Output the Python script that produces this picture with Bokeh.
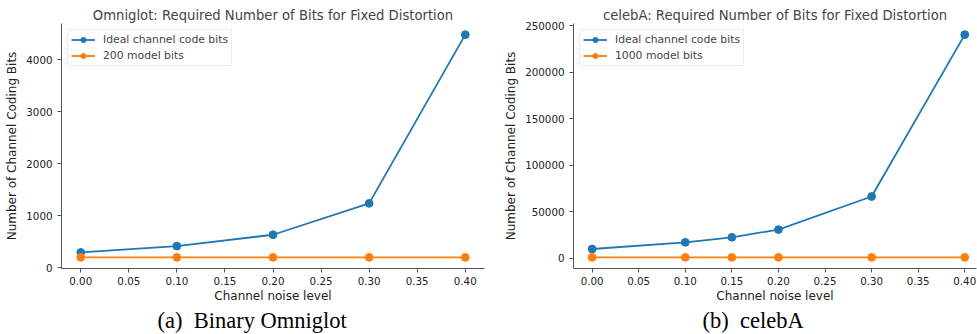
from bokeh.plotting import figure
from bokeh.layouts import row
from bokeh.models import (ColumnDataSource, Range1d, FixedTicker, Legend, LegendItem,
                          PrintfTickFormatter, BasicTickFormatter, Title)
from bokeh.embed import file_html
from bokeh.resources import INLINE

# ---- data ----
omni_noise = [0.0, 0.1, 0.2, 0.3, 0.4]
omni_ideal_bits = [295, 417, 635, 1238, 4481]
omni_model_bits = [200, 200, 200, 200, 200]

celeba_noise = [0.0, 0.1, 0.15, 0.2, 0.3, 0.4]
celeba_ideal_bits = [10000, 17200, 22600, 30900, 66500, 240600]
celeba_model_bits = [1000, 1000, 1000, 1000, 1000, 1000]

x_ticks = [0.0, 0.05, 0.1, 0.15, 0.2, 0.25, 0.3, 0.35, 0.4]
omni_y_ticks = [0, 1000, 2000, 3000, 4000]
celeba_y_ticks = [0, 50000, 100000, 150000, 200000, 250000]

BLUE = "#1f77b4"
ORANGE = "#ff7f0e"
FONT = "DejaVu Sans"
SPINE = "#555555"


def pad(lo, hi, frac=0.05):
    d = (hi - lo) * frac
    return lo - d, hi + d


def make_panel(title, xs, ideal, model, model_label, yticks, caption,
               width, border_left, border_right, caption_offset, x_end=None):
    ylo, yhi = pad(min(min(ideal), min(model)), max(max(ideal), max(model)))
    xlo, xhi = pad(min(xs), max(xs))
    if x_end is not None:
        xhi = x_end
    p = figure(width=width, height=334, output_backend="svg", toolbar_location=None,
               x_range=Range1d(xlo, xhi), y_range=Range1d(ylo, yhi),
               min_border_left=border_left, min_border_right=border_right,
               min_border_top=23, min_border_bottom=66)
    p.title.text = title
    p.title.text_font = FONT
    p.title.text_font_size = "13.2px"
    p.title.text_font_style = "normal"
    p.title.align = "center"
    p.title.standoff = 2
    p.outline_line_color = None
    p.grid.visible = False
    p.background_fill_color = "white"

    src = ColumnDataSource(dict(x=xs, ideal=ideal, model=model))
    l1 = p.line("x", "ideal", source=src, line_color=BLUE, line_width=1.8)
    c1 = p.scatter("x", "ideal", source=src, size=7.8, fill_color=BLUE, line_color=BLUE)
    l2 = p.line("x", "model", source=src, line_color=ORANGE, line_width=1.8)
    c2 = p.scatter("x", "model", source=src, size=7.8, fill_color=ORANGE, line_color=ORANGE)

    for ax in (p.xaxis[0], p.yaxis[0]):
        ax.axis_line_color = SPINE
        ax.major_tick_line_color = SPINE
        ax.minor_tick_line_color = None
        ax.major_tick_in = 0
        ax.major_tick_out = 4
        ax.major_label_text_font = FONT
        ax.major_label_text_font_size = "10.3px"
        ax.major_label_text_color = "#222222"
        ax.axis_label_text_font = FONT
        ax.axis_label_text_font_size = "12px"
        ax.axis_label_text_font_style = "normal"
        ax.axis_label_text_color = "#222222"

    p.xaxis.ticker = FixedTicker(ticks=x_ticks)
    p.xaxis.formatter = PrintfTickFormatter(format="%.2f")
    p.xaxis.axis_label = "Channel noise level"
    p.xaxis.major_label_standoff = 4
    p.xaxis.axis_label_standoff = 1

    p.yaxis.ticker = FixedTicker(ticks=yticks)
    p.yaxis.formatter = BasicTickFormatter(use_scientific=False)
    p.yaxis.axis_label = "Number of Channel Coding Bits"
    p.yaxis.major_label_standoff = 5
    p.yaxis.axis_label_standoff = 4

    legend = Legend(items=[LegendItem(label="Ideal channel code bits", renderers=[l1, c1]),
                           LegendItem(label=model_label, renderers=[l2, c2])],
                    location="top_left", margin=6, padding=3, spacing=3,
                    label_text_font=FONT, label_text_font_size="10.8px",
                    label_height=13, glyph_height=13, glyph_width=24,
                    label_standoff=8, border_line_color="#d9d9d9",
                    border_line_width=1, background_fill_alpha=0.85)
    p.add_layout(legend)

    cap = Title(text=caption, align="left", offset=caption_offset,
                text_font="Liberation Serif", text_font_size="22.5px",
                text_font_style="normal", text_color="black", standoff=0)
    p.add_layout(cap, "below")
    return p


p1 = make_panel("Omniglot: Required Number of Bits for Fixed Distortion",
                omni_noise, omni_ideal_bits, omni_model_bits, "200 model bits",
                omni_y_ticks, "(a)\u2002Binary Omniglot", 490, 61, 6, 96)

p2 = make_panel("celebA: Required Number of Bits for Fixed Distortion",
                celeba_noise, celeba_ideal_bits, celeba_model_bits, "1000 model bits",
                celeba_y_ticks, "(b)\u2002celebA", 487, 83, 1, 129, x_end=0.4126)

layout = row(p1, p2)
open("out.html", "w").write(file_html(layout, INLINE))
